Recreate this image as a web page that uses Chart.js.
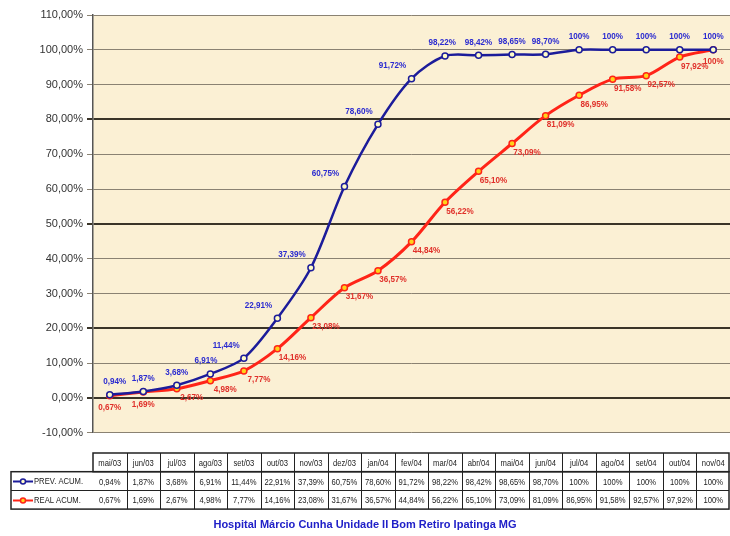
<!DOCTYPE html>
<html>
<head>
<meta charset="utf-8">
<script src="https://cdn.jsdelivr.net/npm/chart.js@4/dist/chart.umd.min.js"></script>
<style>
  html, body { margin: 0; padding: 0; background: #ffffff; }
  #wrap { width: 730px; height: 536px; position: relative; }
</style>
</head>
<body>
<div id="wrap"><canvas id="c" width="730" height="536"></canvas></div>
<script>
// Months of the schedule
const months = ['mai/03','jun/03','jul/03','ago/03','set/03','out/03','nov/03','dez/03','jan/04','fev/04',
                'mar/04','abr/04','mai/04','jun/04','jul/04','ago/04','set/04','out/04','nov/04'];
// Planned cumulative progress (%)
const prevAcum = [0.94, 1.87, 3.68, 6.91, 11.44, 22.91, 37.39, 60.75, 78.60, 91.72,
                  98.22, 98.42, 98.65, 98.70, 100, 100, 100, 100, 100];
// Actual cumulative progress (%)
const realAcum = [0.67, 1.69, 2.67, 4.98, 7.77, 14.16, 23.08, 31.67, 36.57, 44.84,
                  56.22, 65.10, 73.09, 81.09, 86.95, 91.58, 92.57, 97.92, 100];
const seriesNames = ['PREV. ACUM.', 'REAL ACUM.'];
const yTicks = [-10, 0, 10, 20, 30, 40, 50, 60, 70, 80, 90, 100, 110];
const titleText = 'Hospital Márcio Cunha Unidade II Bom Retiro Ipatinga MG';

const BLUE = '#1c1c9a', BLUE_TXT = '#2b2bd0';
const RED = '#ff2418', RED_TXT = '#e0302a';
const FONT = "'Liberation Sans', Arial, sans-serif";

function pct(v) {
  return v === 100 ? '100%' : v.toFixed(2).replace('.', ',') + '%';
}

// Horizontally condensed text (narrow face look)
function narrowText(c, text, x, y, k) {
  c.save();
  c.translate(x, y);
  c.scale(k, 1);
  c.fillText(text, 0, 0);
  c.restore();
}

// Beige plotting area
const plotBg = {
  id: 'plotBg',
  beforeDraw(chart) {
    const a = chart.chartArea, c = chart.ctx;
    c.save();
    c.fillStyle = '#fbf0d4';
    c.fillRect(a.left, a.top, a.right - a.left, a.bottom - a.top);
    c.restore();
  }
};

// Value labels beside each point
const valueLabels = {
  id: 'valueLabels',
  afterDatasetsDraw(chart) {
    const c = chart.ctx;
    c.save();
    c.font = 'bold 9px ' + FONT;
    c.textAlign = 'center';
    c.textBaseline = 'middle';
    chart.data.datasets.forEach((ds, di) => {
      const meta = chart.getDatasetMeta(di);
      const vals = ds.data;
      meta.data.forEach((pt, i) => {
        const prev = vals[Math.max(0, i - 1)], next = vals[Math.min(vals.length - 1, i + 1)];
        const rise = next - prev;
        let dx, dy;
        if (di === 0) {
          dx = i === 0 ? 5 : -Math.min(19, Math.max(0, rise - 5) * 1.6);
          dy = -13;
        } else {
          dx = rise > 3 ? 15 : 0;
          dy = rise > 3 ? 9 : 12;
        }
        c.fillStyle = di === 0 ? BLUE_TXT : RED_TXT;
        narrowText(c, pct(vals[i]), pt.x + dx, pt.y + dy, 0.9);
      });
    });
    c.restore();
  }
};

// Data table under the plot, aligned to the category columns
const dataTable = {
  id: 'dataTable',
  afterDraw(chart) {
    const c = chart.ctx, xs = chart.scales.x;
    const n = months.length;
    const step = (xs.getPixelForValue(n - 1) - xs.getPixelForValue(0)) / (n - 1);
    const left = xs.getPixelForValue(0) - step / 2;
    const right = Math.min(xs.getPixelForValue(n - 1) + step / 2, chart.width - 1);
    const legLeft = 11;
    const top = 453, rh = 18.7;
    c.save();
    c.strokeStyle = '#222';
    c.lineWidth = 1;
    c.beginPath();
    c.moveTo(legLeft, Math.round(top + rh * 2) + 0.5); c.lineTo(right, Math.round(top + rh * 2) + 0.5);
    for (let i = 1; i < n; i++) {
      const x = Math.round(left + i * step) + 0.5;
      c.moveTo(x, top); c.lineTo(x, top + rh * 3);
    }
    c.stroke();
    c.lineWidth = 1.5;
    // header row (months)
    c.strokeRect(left, top, right - left, rh);
    // data rows
    c.strokeRect(legLeft, top + rh, right - legLeft, rh * 2);
    c.font = '9px ' + FONT;
    c.fillStyle = '#222';
    c.textAlign = 'center';
    c.textBaseline = 'middle';
    months.forEach((m, i) => {
      const x = xs.getPixelForValue(i);
      narrowText(c, m, x, top + rh / 2 + 1, 0.85);
      narrowText(c, pct(prevAcum[i]), x, top + rh * 1.5 + 1, 0.85);
      narrowText(c, pct(realAcum[i]), x, top + rh * 2.5 + 1, 0.85);
    });
    // legend keys
    [[BLUE, '#fffcc8'], [RED, '#ffd21a']].forEach((col, r) => {
      const y = Math.round(top + rh * (1.5 + r)) + 0.5;
      c.strokeStyle = col[0];
      c.lineWidth = 2;
      c.beginPath(); c.moveTo(13, y); c.lineTo(33, y); c.stroke();
      c.beginPath(); c.arc(23, y, 2.5, 0, Math.PI * 2);
      c.fillStyle = col[1]; c.fill(); c.lineWidth = 1.5; c.stroke();
      c.fillStyle = '#222';
      c.textAlign = 'left';
      narrowText(c, seriesNames[r], 34, y + 0.5, 0.85);
    });
    c.restore();
  }
};

const strongLines = [0, 20, 50, 80];

new Chart(document.getElementById('c'), {
  type: 'line',
  data: {
    labels: months,
    datasets: [
      {
        label: seriesNames[0], data: prevAcum,
        borderColor: BLUE, borderWidth: 2.5, tension: 0.3,
        pointRadius: 3, pointBorderWidth: 1.5, pointBackgroundColor: '#fffcc8', pointBorderColor: BLUE
      },
      {
        label: seriesNames[1], data: realAcum,
        borderColor: RED, borderWidth: 3, tension: 0.3,
        pointRadius: 3, pointBorderWidth: 1.5, pointBackgroundColor: '#ffd21a', pointBorderColor: RED
      }
    ]
  },
  options: {
    responsive: false,
    animation: false,
    layout: { autoPadding: false, padding: { top: 15, right: 0, bottom: 2, left: 0 } },
    plugins: {
      legend: { display: false },
      tooltip: { enabled: false },
      title: {
        display: true, position: 'bottom', text: titleText,
        color: '#2020c8', font: { family: FONT, size: 11, weight: 'bold' },
        padding: { top: 78, bottom: 2 }
      }
    },
    scales: {
      x: {
        offset: true,
        grid: { display: false },
        ticks: { display: false },
        border: { display: false }
      },
      y: {
        min: -10, max: 110,
        afterBuildTicks(scale) { scale.ticks = yTicks.map(v => ({ value: v })); },
        afterFit(scale) { scale.width = 93; },
        ticks: {
          padding: 4, color: '#333',
          font: { family: FONT, size: 11 },
          callback: v => v.toFixed(2).replace('.', ',') + '%'
        },
        grid: {
          tickLength: 6,
          color: ctx => strongLines.includes(ctx.tick && ctx.tick.value) ? '#3a3428' : '#8a8272',
          lineWidth: ctx => strongLines.includes(ctx.tick && ctx.tick.value) ? 2 : 1
        },
        border: { color: '#555', width: 1.5 }
      }
    }
  },
  plugins: [plotBg, valueLabels, dataTable]
});
</script>
</body>
</html>
